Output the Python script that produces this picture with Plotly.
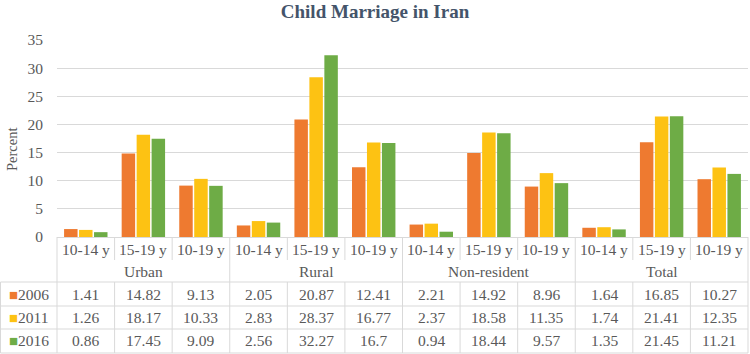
import plotly.graph_objects as go

groups = ["Urban", "Rural", "Non-resident", "Total"]
ages = ["10-14 y", "15-19 y", "10-19 y"]
years = ["2006", "2011", "2016"]
v2006 = [1.41, 14.82, 9.13, 2.05, 20.87, 12.41, 2.21, 14.92, 8.96, 1.64, 16.85, 10.27]
v2011 = [1.26, 18.17, 10.33, 2.83, 28.37, 16.77, 2.37, 18.58, 11.35, 1.74, 21.41, 12.35]
v2016 = [0.86, 17.45, 9.09, 2.56, 32.27, 16.7, 0.94, 18.44, 9.57, 1.35, 21.45, 11.21]
yticks = [0, 5, 10, 15, 20, 25, 30, 35]

series = [v2006, v2011, v2016]
colors = ["#EE7A30", "#FDC213", "#6EAC46"]

W, H = 750, 354
L, R, T, B = 57, 2, 40, 117
PW = W - L - R
PH = H - T - B
n = len(v2006)
xs = list(range(n))

FONT = "Liberation Serif, Times New Roman, serif"
TXT = "#595959"
GRID = "#d9d9d9"

def py2paper(py):
    return (H - B - py) / PH

def px2paper(px):
    return (px - L) / PW

def idx2paper(i):
    return (i + 0.5) / n

fig = go.Figure()
for yr, vals, c in zip(years, series, colors):
    fig.add_trace(go.Bar(x=xs, y=vals, name=yr, marker=dict(color=c, line=dict(width=0)),
                         showlegend=False, hoverinfo="skip"))

shapes = []
line = dict(color=GRID, width=1)
for py in [282, 306, 329, 353]:
    shapes.append(dict(type="line", xref="paper", yref="paper", x0=px2paper(0.5), x1=1,
                       y0=py2paper(py), y1=py2paper(py), line=line))
for i in range(n + 1):
    xp = i / n
    shapes.append(dict(type="line", xref="paper", yref="paper", x0=xp, x1=xp,
                       y0=py2paper(237), y1=py2paper(260), line=line))
for g in range(len(groups) + 1):
    xp = g * 3 / n
    shapes.append(dict(type="line", xref="paper", yref="paper", x0=xp, x1=xp,
                       y0=py2paper(260), y1=py2paper(282), line=line))
for i in range(-1, n + 1):
    xp = i / n
    if i == -1:
        xp = px2paper(0.5)
    shapes.append(dict(type="line", xref="paper", yref="paper", x0=xp, x1=xp,
                       y0=py2paper(282), y1=py2paper(353), line=line))

ann = []
tf = dict(family=FONT, size=15.5, color=TXT)
for i in range(n):
    ann.append(dict(x=idx2paper(i), y=py2paper(249), xref="paper", yref="paper",
                    text=ages[i % 3], showarrow=False, font=tf, xanchor="center", yanchor="middle"))
for g, name in enumerate(groups):
    ann.append(dict(x=idx2paper(g * 3 + 1), y=py2paper(271), xref="paper", yref="paper",
                    text=name, showarrow=False, font=tf, xanchor="center", yanchor="middle"))
rows_py = [294, 317, 340]
for r, (yr, vals, c) in enumerate(zip(years, series, colors)):
    ann.append(dict(x=px2paper(29), y=py2paper(rows_py[r]), xref="paper", yref="paper",
                    text=f"<span style='color:{c};font-size:15px'>■</span>{yr}",
                    showarrow=False, font=tf, xanchor="center", yanchor="middle"))
    for i, v in enumerate(vals):
        ann.append(dict(x=idx2paper(i), y=py2paper(rows_py[r]), xref="paper", yref="paper",
                        text=f"{v:g}", showarrow=False, font=tf, xanchor="center", yanchor="middle"))
ann.append(dict(x=px2paper(12), y=py2paper(150), xref="paper", yref="paper", text="Percent",
                textangle=-90, showarrow=False, font=dict(family=FONT, size=14.5, color=TXT),
                xanchor="center", yanchor="middle"))

fig.update_layout(
    width=W, height=H,
    margin=dict(l=L, r=R, t=T, b=B, pad=0),
    paper_bgcolor="white", plot_bgcolor="white",
    barmode="group", bargap=0.22, bargroupgap=0.1,
    title=dict(text="<b>Child Marriage in Iran</b>", x=0.5, xanchor="center", y=1 - 11 / H,
               yanchor="middle", font=dict(family=FONT, size=19, color="#44546A")),
    xaxis=dict(range=[-0.5, n - 0.5], showticklabels=False, showgrid=False, zeroline=False,
               showline=True, linecolor=GRID, linewidth=1, ticks="", fixedrange=True),
    yaxis=dict(range=[0, 35], tickvals=yticks, showgrid=True, gridcolor=GRID, gridwidth=1,
               zeroline=False, showline=False, ticks="", ticklabelstandoff=13, fixedrange=True,
               tickfont=dict(family=FONT, size=15.5, color=TXT)),
    shapes=shapes, annotations=ann,
)

fig.write_html("out.html", config={"displayModeBar": False},
               post_script="document.body.style.margin='0';document.body.style.overflow='hidden';")
